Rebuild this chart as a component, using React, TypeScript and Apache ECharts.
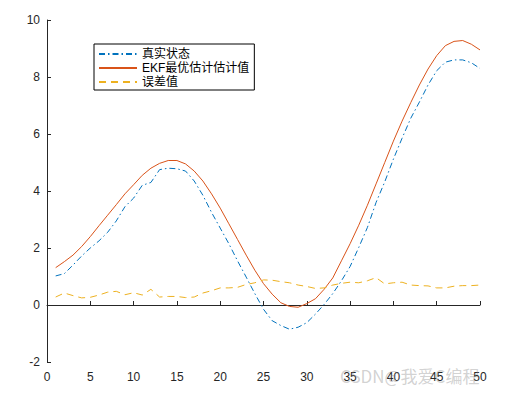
import React, { useEffect, useRef } from "react";
import * as echarts from "echarts";

const xs = [
  1, 2, 3, 4, 5, 6, 7, 8, 9, 10, 11, 12, 13, 14, 15, 16, 17, 18, 19, 20, 21, 22, 23, 24, 25,
  26, 27, 28, 29, 30, 31, 32, 33, 34, 35, 36, 37, 38, 39, 40, 41, 42, 43, 44, 45, 46, 47, 48, 49, 50,
];

const trueState = [
  1.02, 1.1, 1.4, 1.72, 2.0, 2.25, 2.55, 2.95, 3.45, 3.75, 4.2, 4.3, 4.75, 4.8, 4.78, 4.7, 4.35, 3.85, 3.25, 2.7,
  2.15, 1.55, 0.98, 0.4, -0.15, -0.55, -0.72, -0.85, -0.78, -0.62, -0.32, 0.02, 0.4, 0.85, 1.35, 2.02, 2.72, 3.6,
  4.32, 5.12, 5.85, 6.55, 7.12, 7.72, 8.22, 8.52, 8.6, 8.6, 8.5, 8.3,
];

const ekfEstimate = [
  1.31, 1.52, 1.75, 2.05, 2.4, 2.78, 3.15, 3.52, 3.9, 4.22, 4.55, 4.8, 4.97, 5.07, 5.07, 4.95, 4.7, 4.35, 3.9, 3.4,
  2.85, 2.3, 1.75, 1.22, 0.75, 0.38, 0.08, -0.05, -0.08, 0.05, 0.22, 0.55, 0.95, 1.55, 2.15, 2.8, 3.5, 4.25, 5.0,
  5.75, 6.45, 7.1, 7.72, 8.28, 8.75, 9.1, 9.25, 9.28, 9.15, 8.95,
];

const errorValue = [
  0.28, 0.42, 0.33, 0.25, 0.27, 0.35, 0.45, 0.48, 0.36, 0.43, 0.35, 0.55, 0.28, 0.3, 0.3, 0.26, 0.28, 0.42, 0.5, 0.6,
  0.6, 0.62, 0.72, 0.78, 0.88, 0.87, 0.82, 0.78, 0.7, 0.65, 0.58, 0.6, 0.7, 0.76, 0.8, 0.78, 0.85, 0.96, 0.74, 0.78,
  0.8, 0.7, 0.68, 0.67, 0.6, 0.6, 0.66, 0.68, 0.68, 0.7,
];

const seriesNames = ["真实状态", "EKF最优估计估计值", "误差值"];
const watermark = "CSDN@我爱C编程";

const pairs = (ys: number[]) => xs.map((x, i) => [x, ys[i]]);

export default function App() {
  const ref = useRef<HTMLDivElement>(null);
  useEffect(() => {
    document.body.style.margin = "0";
    const chart = echarts.init(ref.current!, undefined, { renderer: "svg" });
    const font = "'Liberation Sans', Arial, 'Noto Sans CJK SC', sans-serif";
    const axisColor = "#262626";
    chart.setOption({
      animation: false,
      backgroundColor: "#ffffff",
      grid: { left: 47, right: 39, top: 20, bottom: 33 },
      xAxis: {
        type: "value",
        min: 0,
        max: 50,
        interval: 5,
        axisLine: { show: true, lineStyle: { color: axisColor, width: 1 } },
        axisTick: { show: true, inside: true, length: 4, lineStyle: { color: axisColor } },
        axisLabel: { color: axisColor, fontSize: 12, fontFamily: font, margin: 9 },
        splitLine: { show: false },
      },
      yAxis: {
        type: "value",
        min: -2,
        max: 10,
        interval: 2,
        axisLine: { show: true, lineStyle: { color: axisColor, width: 1 } },
        axisTick: { show: true, inside: true, length: 4, lineStyle: { color: axisColor } },
        axisLabel: { color: axisColor, fontSize: 12, fontFamily: font, margin: 7 },
        splitLine: { show: false },
      },
      legend: {
        orient: "vertical",
        left: 94,
        top: 44,
        itemWidth: 38,
        itemHeight: 14,
        itemGap: 2,
        padding: [4, 5, 2, 4],
        borderColor: "#000",
        borderWidth: 1,
        backgroundColor: "#fff",
        itemStyle: { opacity: 0 },
        textStyle: { color: "#000", fontSize: 12, fontFamily: font },
        data: seriesNames,
      },
      series: [
        {
          name: seriesNames[0],
          type: "line",
          data: pairs(trueState),
          symbol: "none",
          lineStyle: { color: "#0072BD", width: 1, type: [6, 3, 1.5, 3] },
          itemStyle: { color: "#0072BD" },
        },
        {
          name: seriesNames[1],
          type: "line",
          data: pairs(ekfEstimate),
          symbol: "none",
          lineStyle: { color: "#D95319", width: 1, type: "solid" },
          itemStyle: { color: "#D95319" },
        },
        {
          name: seriesNames[2],
          type: "line",
          data: pairs(errorValue),
          symbol: "none",
          lineStyle: { color: "#EDB120", width: 1, type: [7, 5] },
          itemStyle: { color: "#EDB120" },
        },
      ],
      graphic: [
        {
          type: "text",
          left: 340,
          top: 367,
          z: 100,
          style: {
            text: watermark,
            fill: "rgba(140,140,140,0.4)",
            font: "17px 'Noto Sans CJK SC', sans-serif",
          },
        },
      ],
    });
    return () => chart.dispose();
  }, []);
  return (
    <div
      ref={ref}
      style={{ position: "fixed", left: 0, top: 0, width: 519, height: 395 }}
    />
  );
}
